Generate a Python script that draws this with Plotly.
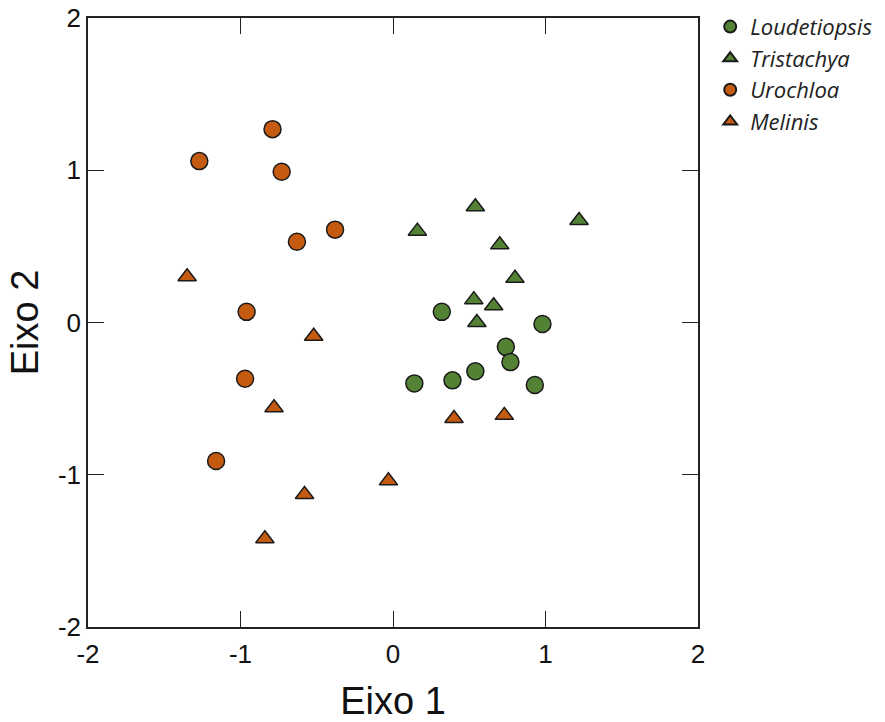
import plotly.graph_objects as go

# Loudetiopsis (green circles)
lou_x = [0.32, 0.98, 0.74, 0.77, 0.54, 0.39, 0.14, 0.93]
lou_y = [0.07, -0.01, -0.16, -0.26, -0.32, -0.38, -0.40, -0.41]
# Tristachya (green triangles)
tri_x = [0.54, 0.16, 1.22, 0.70, 0.80, 0.53, 0.66, 0.55]
tri_y = [0.76, 0.60, 0.67, 0.51, 0.29, 0.15, 0.11, 0.00]
# Urochloa (orange circles)
uro_x = [-0.79, -1.27, -0.73, -0.38, -0.63, -0.96, -0.97, -1.16]
uro_y = [1.27, 1.06, 0.99, 0.61, 0.53, 0.07, -0.37, -0.91]
# Melinis (orange triangles)
mel_x = [-1.35, -0.52, -0.78, -0.58, -0.03, -0.84, 0.40, 0.73]
mel_y = [0.30, -0.09, -0.56, -1.13, -1.04, -1.42, -0.63, -0.61]

tick_vals = [-2, -1, 0, 1, 2]
tick_text = ["-2", "-1", "0", "1", "2"]

GREEN = "#548235"
ORANGE = "#C55A11"
EDGE = "#1a1a1a"
FONT = "Liberation Sans, Arial"

fig = go.Figure()
series = [
    ("Loudetiopsis", lou_x, lou_y, "circle", GREEN, 17),
    ("Tristachya", tri_x, tri_y, "triangle-up", GREEN, 16),
    ("Urochloa", uro_x, uro_y, "circle", ORANGE, 17),
    ("Melinis", mel_x, mel_y, "triangle-up", ORANGE, 16),
]
for name, xs, ys, sym, col, sz in series:
    fig.add_trace(go.Scatter(
        x=xs, y=ys, mode="markers", name=f"<i>{name}</i>",
        legendgroup=name,
        marker=dict(symbol=sym, size=sz, color=col,
                    line=dict(color=EDGE, width=1.5)),
    ))

axis_common = dict(
    tickvals=tick_vals, ticktext=tick_text,
    ticks="inside", ticklen=16, tickwidth=1.3, tickcolor="#222",
    showline=True, linecolor="#222", linewidth=1.5, mirror="allticks",
    showgrid=False, zeroline=False, automargin=False,
    tickfont=dict(family=FONT, size=26, color="#111"),
)

fig.update_layout(
    width=885, height=722,
    margin=dict(l=88, r=187, t=18, b=95, autoexpand=False),
    paper_bgcolor="white", plot_bgcolor="white",
    xaxis=dict(range=[-2, 2], **axis_common, ticklabelstandoff=3,
               title=dict(text="Eixo 1", font=dict(family=FONT, size=38, color="#111"), standoff=22)),
    yaxis=dict(range=[-2, 2], **axis_common,
               title=dict(text="Eixo 2", font=dict(family=FONT, size=38, color="#111"), standoff=8)),
    legend=dict(x=1.02, y=0.992, xanchor="left", yanchor="top", yref="container",
                font=dict(family="Open Sans, Noto Sans", size=22, color="#222"),
                tracegroupgap=0, traceorder="grouped",
                bgcolor="rgba(0,0,0,0)", itemsizing="constant"),
    showlegend=True,
)

fig.write_html("out.html")
